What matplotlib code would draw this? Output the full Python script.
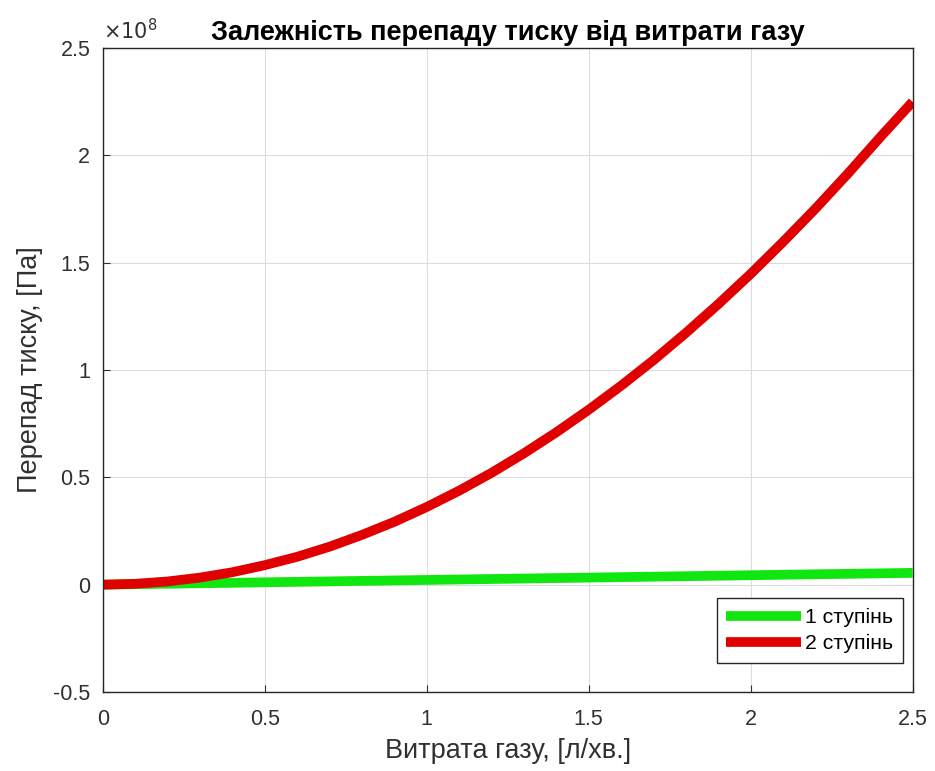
import matplotlib
matplotlib.use("Agg")
import matplotlib.pyplot as plt
from matplotlib.ticker import FuncFormatter, MultipleLocator

plt.rcParams['font.family'] = ['Liberation Sans', 'DejaVu Sans']

# витрата газу, л/хв.
flow = [0.0, 0.1, 0.2, 0.3, 0.4, 0.5, 0.6, 0.7, 0.8, 0.9, 1.0, 1.1, 1.2,
        1.3, 1.4, 1.5, 1.6, 1.7, 1.8, 1.9, 2.0, 2.1, 2.2, 2.3, 2.4, 2.5]
# перепад тиску, Па (1 ступінь)
flow1 = [0.0, 0.5, 1.0, 1.5, 2.0, 2.5]
stage1 = [0.0, 1.1e6, 2.2e6, 3.3e6, 4.4e6, 5.5e6]
# перепад тиску, Па (2 ступінь)
stage2 = [0.0, 0.004e8, 0.015e8, 0.033e8, 0.058e8, 0.091e8, 0.13e8, 0.177e8,
          0.232e8, 0.293e8, 0.362e8, 0.438e8, 0.521e8, 0.612e8, 0.71e8,
          0.815e8, 0.927e8, 1.046e8, 1.173e8, 1.307e8, 1.448e8, 1.597e8,
          1.752e8, 1.915e8, 2.085e8, 2.25e8]

fig = plt.figure(figsize=(9.35, 7.71), dpi=100)
ax = fig.add_axes([0.110, 0.1025, 0.866, 0.835])

ax.plot(flow1, stage1, color='#10e610', lw=7, label='1 ступінь', solid_capstyle='butt')
ax.plot(flow, stage2, color='#e00000', lw=7, label='2 ступінь', solid_capstyle='butt')

ax.set_xlim(0, 2.5)
ax.set_ylim(-0.5e8, 2.5e8)
ax.xaxis.set_major_locator(MultipleLocator(0.5))
ax.yaxis.set_major_locator(MultipleLocator(0.5e8))
ax.xaxis.set_major_formatter(FuncFormatter(lambda v, p: '%g' % v))
ax.yaxis.set_major_formatter(FuncFormatter(lambda v, p: '%g' % round(v / 1e8, 2)))

ax.grid(True, color='#dcdcdc', lw=0.8)
ax.tick_params(direction='in', length=5, labelsize=15.5, colors='#303030')
ax.tick_params(axis='x', pad=12)
ax.tick_params(axis='y', pad=9)
for s in ax.spines.values():
    s.set_color('#262626')
    s.set_linewidth(1.0)

ax.text(0.0, 1.008, r'$\times 10^8$', transform=ax.transAxes, fontsize=15,
        color='#303030', ha='left', va='bottom')

ax.set_title('Залежність перепаду тиску від витрати газу', fontsize=19.5,
             fontweight='bold', pad=6)
ax.set_xlabel('Витрата газу, [л/хв.]', fontsize=19.5, color='#303030', labelpad=6)
ax.set_ylabel('Перепад тиску, [Па]', fontsize=19.5, color='#303030', labelpad=7)

leg = ax.legend(loc='lower right', bbox_to_anchor=(0.9877, 0.045), borderaxespad=0,
                fontsize=15.3, fancybox=False, framealpha=1, edgecolor='#262626',
                handlelength=3.5, handletextpad=0.2, labelspacing=0.35,
                borderpad=0.45)
leg.get_frame().set_linewidth(1.0)

fig.savefig('out.png', dpi=100)
